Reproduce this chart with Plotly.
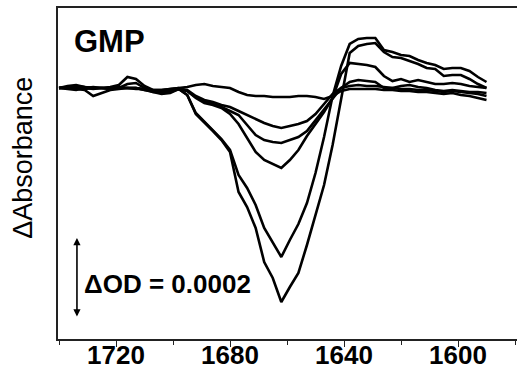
import numpy as np
import plotly.graph_objects as go

# wavenumber grid (cm-1)
wavenumber = list(range(1740, 1589, -3))

# difference spectra, in micro-OD (1e-6 absorbance units)
trace_a = [0, 2.5, 5, 0, -2.5, 0, 0, 2.5, 0, -2.5, -2.5, -5, -5, -2.5, 0,
           2.5, 7.5, 10, 5, 2.5, 0, -10, -17.5, -20, -20, -22.5, -22.5, -22.5, -20, -20,
           -22.5, -27.5, -20, -7.5, -2.5, -2.5, -2.5, -2.5, -5, -5, -7.5, -7.5, -10, -10, -12.5,
           -15, -12.5, -17.5, -20, -25, -30]
trace_b = [0, -2.5, -5, 0, 2.5, 0, -2.5, 0, 0, 0, -5, -7.5, -7.5, -5, -2.5,
           -5, -20, -30, -35, -42.5, -47.5, -57.5, -67.5, -77.5, -87.5, -95, -100, -95, -90, -82.5,
           -65, -40, -15, 0, 5, 7.5, 5, 5, 2.5, 0, -2.5, -2.5, -5, -5, -7.5,
           -10, -7.5, -10, -12.5, -15, -20]
trace_c = [0, 0, -2.5, -5, -20, -12.5, -5, -2.5, 0, 0, -5, -10, -10, -7.5, -2.5,
           -7.5, -22.5, -32.5, -40, -47.5, -57.5, -67.5, -92.5, -117.5, -130, -135, -137.5, -130, -122.5, -107.5,
           -80, -52.5, -25, 0, 15, 20, 17.5, 15, 0, 0, 5, 7.5, 2.5, 0, -5,
           -7.5, -5, -7.5, -10, -10, -12.5]
trace_d = [0, 2.5, 5, 2.5, 0, 0, 2.5, 7.5, 27.5, 22.5, 5, -5, -5, -2.5, 0,
           -7.5, -25, -37.5, -42.5, -50, -65, -90, -125, -160, -180, -190, -200, -180, -155, -120,
           -90, -60, -25, 35, 62.5, 60, 57.5, 52.5, 30, 17.5, 22.5, 15, 20, 15, 10,
           10, 12.5, 10, 5, 2.5, 0]
trace_e = [0, 5, 7.5, 2.5, 0, 0, 0, 0, 10, 12.5, 0, -7.5, -12.5, -10, -2.5,
           -17.5, -62.5, -85, -105, -127.5, -155, -217.5, -250, -292.5, -350, -385, -422.5, -380, -340, -287.5,
           -212.5, -122.5, -20, 55, 110, 122.5, 125, 125, 95, 90, 82.5, 80, 70, 62.5, 57.5,
           47.5, 50, 50, 42.5, 27.5, 15]
trace_f = [0, 0, 0, -2.5, 0, 0, -2.5, 0, 0, 0, -2.5, -10, -15, -12.5, -2.5,
           -17.5, -65, -85, -107.5, -130, -160, -260, -297.5, -350, -435, -475, -535, -497.5, -462.5, -392.5,
           -315, -242.5, -142.5, -22.5, 87.5, 105, 110, 112.5, 90, 77.5, 75, 67.5, 60, 50, 47.5,
           30, 32.5, 32.5, 22.5, 10, 0]

series = [trace_a, trace_b, trace_c, trace_d, trace_e, trace_f]

x_ticks = [1720, 1680, 1640, 1600]
x_tick_labels = ["1720", "1680", "1640", "1600"]

scale_bar_uod = 200  # 0.0002 OD
FONT = "Liberation Sans, Arial, sans-serif"

fig = go.Figure()
for s in series:
    fig.add_trace(go.Scatter(
        x=wavenumber, y=np.array(s) * 1e-6, mode="lines",
        line=dict(color="black", width=2.6), showlegend=False, hoverinfo="skip"))

bar_top = -375e-6
bar_bottom = bar_top - scale_bar_uod * 1e-6
fig.add_annotation(x=1733.7, y=bar_top, ax=1733.7, ay=bar_bottom,
                   xref="x", yref="y", axref="x", ayref="y",
                   text="", showarrow=True, arrowhead=2, arrowside="end+start",
                   arrowsize=0.9, arrowwidth=1.6, arrowcolor="black")
fig.add_annotation(x=1731.9, y=-490e-6, xref="x", yref="y",
                   text="ΔOD = 0.0002", showarrow=False, xanchor="left", yanchor="middle",
                   font=dict(family=FONT, size=26, color="black", weight="bold"))
fig.add_annotation(x=1735.5, y=117.5e-6, xref="x", yref="y",
                   text="GMP", showarrow=False, xanchor="left", yanchor="middle",
                   font=dict(family=FONT, size=31, color="black", weight="bold"))
fig.add_annotation(x=-0.078, y=0.548, xref="paper", yref="paper",
                   text="ΔAbsorbance", showarrow=False, textangle=-90,
                   xanchor="center", yanchor="middle",
                   font=dict(family=FONT, size=27, color="black"))

fig.update_layout(
    width=517, height=372,
    margin=dict(l=58, r=0, t=8, b=33),
    paper_bgcolor="white", plot_bgcolor="white",
    xaxis=dict(range=[1740.35, 1579.3], tickvals=x_ticks, ticktext=x_tick_labels,
               automargin=False, ticklabelstandoff=-14,
               showgrid=False, zeroline=False, showline=True, mirror=True,
               linecolor="#222", linewidth=1.5, ticks="outside", ticklen=6, tickwidth=1.3,
               tickcolor="#222",
               minor=dict(ticks="outside", ticklen=4, tickvals=[1740, 1700, 1660, 1620, 1580],
                          tickcolor="#222", tickwidth=1.3),
               tickfont=dict(family=FONT, size=26, color="black", weight="bold")),
    yaxis=dict(range=[-627.5e-6, 200e-6], showticklabels=False, ticks="", automargin=False,
               showgrid=False, zeroline=False, showline=True, linecolor="#222", linewidth=1.5),
)

fig.write_html("out.html")
